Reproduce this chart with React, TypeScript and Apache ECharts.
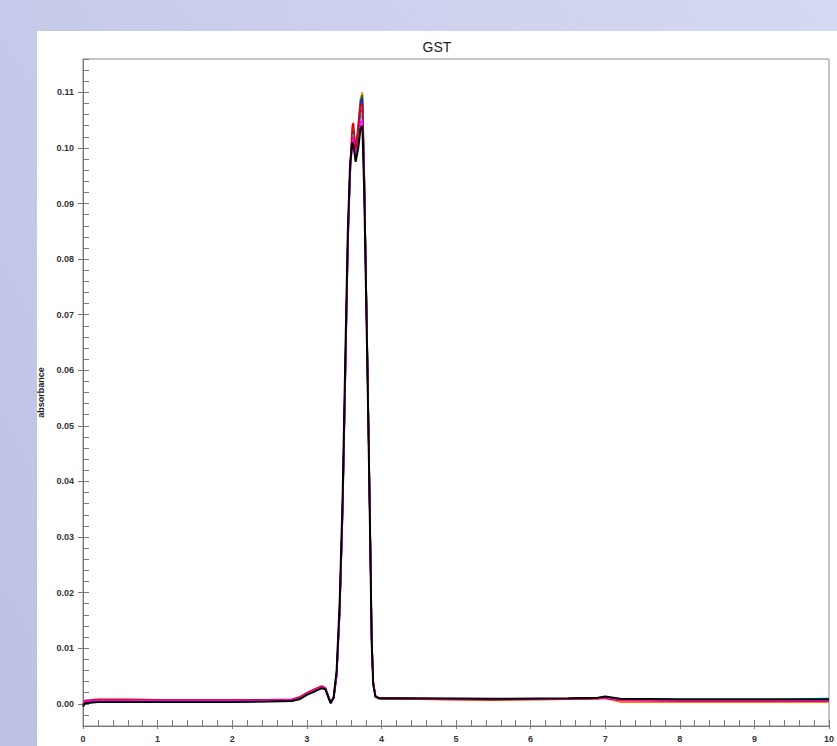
import React, { useEffect, useRef } from "react";
import * as echarts from "echarts";

const TITLE = "GST";
const Y_NAME = "absorbance";

const T = [0, 0.03, 0.2, 0.6, 1.0, 1.5, 2.0, 2.5, 2.8, 2.9, 3.0, 3.1, 3.2, 3.25, 3.29, 3.32, 3.36, 3.4, 3.44, 3.48, 3.52, 3.55, 3.58, 3.61, 3.625, 3.655, 3.69, 3.72, 3.745, 3.77, 3.79, 3.81, 3.83, 3.85, 3.87, 3.89, 3.92, 3.97, 4.5, 5.5, 6.5, 6.9, 7.0, 7.2, 8.0, 9.0, 9.2, 10.0];

const orange = [-0.0003, 0.0004, 0.0006, 0.0006, 0.0006, 0.0006, 0.0006, 0.0006, 0.0007, 0.001, 0.0018, 0.0024, 0.0029, 0.0027, 0.0012, 0.0002, 0.0011, 0.0052, 0.0165, 0.035, 0.062, 0.083, 0.096, 0.103, 0.1035, 0.1, 0.1045, 0.109, 0.11, 0.096, 0.08, 0.065, 0.048, 0.031, 0.012, 0.004, 0.0013, 0.0009, 0.0008, 0.0007, 0.0008, 0.0009, 0.001, 0.0003, 0.0003, 0.0003, 0.0003, 0.0003];
const green = [-0.0002, 0.0004, 0.0005, 0.0005, 0.0005, 0.0005, 0.0005, 0.0005, 0.0006, 0.0009, 0.0017, 0.0023, 0.0029, 0.0027, 0.0012, 0.0001, 0.001, 0.0052, 0.0165, 0.035, 0.062, 0.083, 0.096, 0.1025, 0.103, 0.0995, 0.104, 0.1085, 0.1095, 0.0955, 0.0795, 0.0645, 0.0478, 0.0305, 0.0118, 0.0038, 0.0013, 0.001, 0.0009, 0.0008, 0.0009, 0.001, 0.0011, 0.0007, 0.0007, 0.0007, 0.0007, 0.0007];
const blue = [-0.0002, 0.0003, 0.0005, 0.0005, 0.0005, 0.0005, 0.0005, 0.0005, 0.0006, 0.0009, 0.0017, 0.0023, 0.0029, 0.0027, 0.0012, 0.0002, 0.001, 0.0052, 0.0163, 0.0348, 0.0618, 0.0828, 0.0958, 0.1025, 0.103, 0.099, 0.1035, 0.108, 0.109, 0.095, 0.0792, 0.0642, 0.0476, 0.0303, 0.0117, 0.0038, 0.0013, 0.001, 0.0009, 0.0008, 0.0009, 0.001, 0.0011, 0.0007, 0.0006, 0.0006, 0.0006, 0.0006];
const cyan = [0.0, 0.0006, 0.0006, 0.0006, 0.0006, 0.0006, 0.0006, 0.0006, 0.0007, 0.001, 0.0018, 0.0024, 0.003, 0.0027, 0.0012, 0.0002, 0.0011, 0.0055, 0.017, 0.0355, 0.0625, 0.0835, 0.0962, 0.102, 0.1025, 0.0985, 0.102, 0.1055, 0.106, 0.094, 0.0785, 0.0635, 0.0472, 0.03, 0.0115, 0.0037, 0.0013, 0.001, 0.0009, 0.0008, 0.0009, 0.001, 0.0012, 0.0008, 0.0007, 0.0007, 0.0007, 0.001];
const purple = [-0.0002, 0.0004, 0.0006, 0.0006, 0.0006, 0.0006, 0.0006, 0.0006, 0.0007, 0.001, 0.0018, 0.0024, 0.003, 0.0027, 0.0012, 0.0002, 0.001, 0.005, 0.016, 0.0342, 0.0612, 0.0822, 0.0952, 0.1018, 0.102, 0.0985, 0.1025, 0.1065, 0.107, 0.094, 0.0784, 0.0634, 0.0471, 0.03, 0.0118, 0.004, 0.0014, 0.001, 0.0009, 0.0008, 0.0009, 0.001, 0.0011, 0.0007, 0.0006, 0.0006, 0.0006, 0.0006];
const red = [0.0, 0.0006, 0.0008, 0.0008, 0.0007, 0.0007, 0.0007, 0.0007, 0.0008, 0.0012, 0.002, 0.0026, 0.0032, 0.0029, 0.0014, 0.0003, 0.0011, 0.0055, 0.017, 0.0355, 0.063, 0.084, 0.0965, 0.104, 0.1045, 0.0995, 0.103, 0.1075, 0.108, 0.095, 0.079, 0.064, 0.0475, 0.03, 0.0115, 0.0038, 0.0013, 0.0009, 0.0008, 0.0007, 0.0008, 0.0009, 0.001, 0.0006, 0.0005, 0.0005, 0.0005, 0.0005];
const magenta = [-0.0002, 0.0004, 0.0006, 0.0006, 0.0006, 0.0006, 0.0006, 0.0006, 0.0007, 0.001, 0.0018, 0.0024, 0.003, 0.0028, 0.0013, 0.0002, 0.001, 0.005, 0.016, 0.034, 0.061, 0.082, 0.095, 0.101, 0.1015, 0.098, 0.101, 0.1045, 0.105, 0.093, 0.078, 0.063, 0.047, 0.03, 0.012, 0.004, 0.0014, 0.001, 0.0009, 0.0008, 0.0009, 0.001, 0.0011, 0.0007, 0.0006, 0.0006, 0.0006, 0.0006];
const black = [-0.0005, 0.0001, 0.0003, 0.0003, 0.0003, 0.0003, 0.0003, 0.0004, 0.0005, 0.0008, 0.0016, 0.0022, 0.0028, 0.0026, 0.0011, 0.0001, 0.0012, 0.006, 0.018, 0.037, 0.065, 0.085, 0.097, 0.101, 0.1005, 0.0975, 0.1, 0.1035, 0.104, 0.092, 0.077, 0.062, 0.046, 0.029, 0.011, 0.0035, 0.0013, 0.001, 0.001, 0.0009, 0.001, 0.0011, 0.0013, 0.0009, 0.0008, 0.0008, 0.0008, 0.0008];

const SERIES_VALUES = [orange, green, blue, cyan, purple, red, magenta, black];
const SERIES_COLORS = ["#ff8000", "#009000", "#1a1aff", "#00e5e5", "#9933ff", "#e00000", "#ff00ff", "#000000"];

const Y_LABELS = [0, 0.01, 0.02, 0.03, 0.04, 0.05, 0.06, 0.07, 0.08, 0.09, 0.1, 0.11];
const Y_MIN = -0.004;
const Y_MAX = 0.116;
const X_MIN = 0;
const X_MAX = 10;

const FONT = "'Liberation Sans', Arial, sans-serif";

export default function App() {
  const ref = useRef<HTMLDivElement>(null);
  useEffect(() => {
    if (!ref.current) return;
    const chart = echarts.init(ref.current, null, { renderer: "svg" });
    const labelStyle = { fontSize: 9, fontWeight: "bold" as const, color: "#333", fontFamily: FONT };
    const axisLineStyle = { color: "#7a7a7a", width: 1 };
    chart.setOption({
      animation: false,
      backgroundColor: "#ffffff",
      title: {
        text: TITLE,
        left: "center",
        top: 4,
        textStyle: { fontSize: 14, fontWeight: "normal", color: "#222", fontFamily: FONT },
      },
      grid: {
        left: 46,
        right: 8,
        top: 28,
        bottom: 20,
        containLabel: false,
        outerBoundsMode: "none",
        show: true,
        borderColor: "#8a8a8a",
        borderWidth: 1,
        backgroundColor: "transparent",
      },
      xAxis: [
        {
          type: "value",
          min: X_MIN,
          max: X_MAX,
          interval: 1,
          position: "bottom",
          axisLine: { show: true, onZero: false, lineStyle: axisLineStyle },
          axisTick: { show: true, inside: false, length: 3, lineStyle: axisLineStyle },
          axisLabel: { ...labelStyle, margin: 8 },
          splitLine: { show: false },
        },
        {
          type: "value",
          min: X_MIN,
          max: X_MAX,
          interval: 0.2,
          position: "bottom",
          axisLine: { show: false, onZero: false },
          axisTick: { show: true, inside: true, length: 6, lineStyle: axisLineStyle },
          axisLabel: { show: false },
          splitLine: { show: false },
        },
      ],
      yAxis: [
        {
          type: "value",
          min: Y_MIN,
          max: Y_MAX,
          position: "left",
          name: Y_NAME,
          nameLocation: "middle",
          nameGap: 35,
          nameTextStyle: { fontSize: 9, fontWeight: "bold", color: "#222", fontFamily: FONT },
          axisLine: { show: true, onZero: false, lineStyle: axisLineStyle },
          axisTick: { show: true, inside: false, length: 5, customValues: Y_LABELS, lineStyle: axisLineStyle },
          axisLabel: {
            ...labelStyle,
            margin: 9,
            customValues: Y_LABELS,
            formatter: (v: number) => v.toFixed(2),
          },
          splitLine: { show: false },
        },
        {
          type: "value",
          min: Y_MIN,
          max: Y_MAX,
          interval: 0.002,
          position: "left",
          axisLine: { show: false, onZero: false },
          axisTick: { show: true, inside: true, length: 6, lineStyle: axisLineStyle },
          axisLabel: { show: false },
          splitLine: { show: false },
        },
      ],
      series: SERIES_VALUES.map((vals, i) => ({
        type: "line",
        xAxisIndex: 0,
        yAxisIndex: 0,
        symbol: "none",
        showSymbol: false,
        smooth: false,
        lineStyle: { color: SERIES_COLORS[i], width: i === SERIES_VALUES.length - 1 ? 2 : 1.6 },
        data: T.map((t, j) => [t, vals[j]]),
        z: 2 + i,
      })),
    });
    return () => chart.dispose();
  }, []);
  return (
    <div
      style={{
        position: "fixed",
        left: 0,
        top: 0,
        width: 837,
        height: 746,
        background: "linear-gradient(60deg, #bcc0e5 0%, #c9cdeb 45%, #d5d9f1 100%)",
        overflow: "hidden",
      }}
    >
      <div
        ref={ref}
        style={{ position: "absolute", left: 37, top: 31, width: 800, height: 715, background: "#fff" }}
      />
    </div>
  );
}
